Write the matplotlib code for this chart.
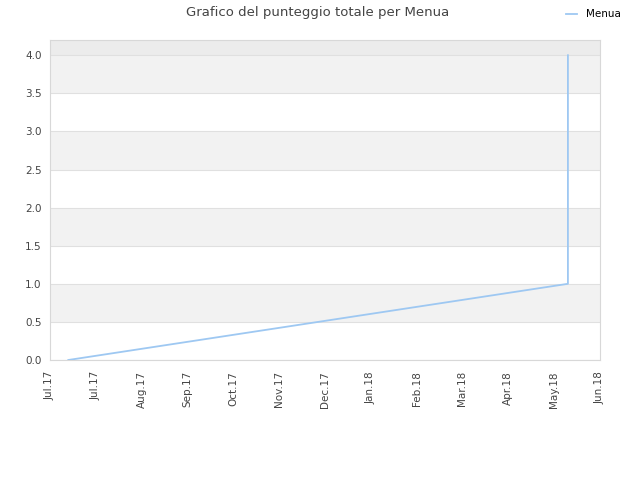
import matplotlib
matplotlib.use("Agg")
import matplotlib.pyplot as plt
import matplotlib.dates as mdates
import numpy as np
from datetime import date, timedelta

# data
dates = [date(2017, 7, 13), date(2018, 6, 5), date(2018, 6, 5)]
scores = [0, 1, 4]

tick_dates = [date(2017, 7, 1) + timedelta(days=30 * i) for i in range(13)]
tick_labels = ["Jul.17", "Jul.17", "Aug.17", "Sep.17", "Oct.17", "Nov.17", "Dec.17",
               "Jan.18", "Feb.18", "Mar.18", "Apr.18", "May.18", "Jun.18"]
y_ticks = [0.0, 0.5, 1.0, 1.5, 2.0, 2.5, 3.0, 3.5, 4.0]

fig = plt.figure(figsize=(6.4, 4.8), dpi=100)
ax = fig.add_axes([50 / 640, 120 / 480, 550 / 640, 320 / 480])

# alternating bands
for i in range(len(y_ticks) - 1):
    if i % 2 == 1:
        ax.axhspan(y_ticks[i], y_ticks[i + 1], color="#f2f2f2", zorder=0, lw=0)
ax.axhspan(4.0, 4.2, color="#ececec", zorder=0, lw=0)
for y in y_ticks:
    ax.axhline(y, color="#e0e0e0", lw=0.8, zorder=1)

ax.plot(dates, scores, color="#9ec8f2", lw=1.3, label="Menua", zorder=3)

ax.set_ylim(0, 4.2)
ax.set_xlim(tick_dates[0], tick_dates[-1])
ax.set_yticks(y_ticks)
ax.set_yticklabels([f"{v:.1f}" for v in y_ticks])
ax.set_xticks(tick_dates)
ax.set_xticklabels(tick_labels, rotation=90)
ax.tick_params(length=0, labelsize=7.5, colors="#444444", pad=6)
ax.tick_params(axis="x", pad=8)

for s in ax.spines.values():
    s.set_color("#d8d8d8")
    s.set_linewidth(0.8)

fig.suptitle("Grafico del punteggio totale per Menua", x=0.497, y=0.987,
             fontsize=9.5, color="#444444")
fig.legend(loc="upper right", bbox_to_anchor=(0.985, 1.0), frameon=False,
           fontsize=7.5, handlelength=1.0, handletextpad=0.9)

fig.savefig("out.png", dpi=100)
